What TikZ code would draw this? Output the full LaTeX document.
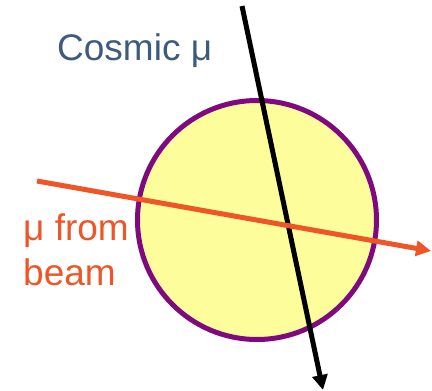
\documentclass[tikz,border=0pt]{standalone}
\usepackage{fontspec}
\setmainfont{Liberation Sans}
\usetikzlibrary{arrows.meta}
\definecolor{detfill}{HTML}{FDFD9B}
\definecolor{detline}{HTML}{7F0A7F}
\definecolor{beamcol}{HTML}{EE5527}
\definecolor{cosmiccol}{HTML}{3F5B7C}
\tikzset{
  detector/.style={circle, draw=detline, line width=5pt, fill=detfill, minimum size=239pt, inner sep=0pt},
  track/.style={line width=5pt, -{Triangle[length=15pt,width=15pt]}},
  cosmictrack/.style={track, draw=black},
  beamtrack/.style={track, draw=beamcol},
  lbl/.style={font=\fontsize{37}{45}\selectfont, inner sep=0pt, anchor=base west},
}
\begin{document}
\begin{tikzpicture}[x=1pt,y=-1pt]
\useasboundingbox (0,0) rectangle (432,391);
\node[detector] (det) at (257,220) {};
\coordinate (cs) at (242,6);
\coordinate (ce) at (323,390);
\coordinate (bs) at (37,181);
\coordinate (be) at (431,251);
\draw[cosmictrack] (cs) -- (ce);
\draw[beamtrack] (bs) -- (be);
\node[lbl, text=cosmiccol] (cosmic) at (57,60) {Cosmic μ};
\node[lbl, text=beamcol] (beam1) at (23,240) {μ from};
\node[lbl, text=beamcol] (beam2) at (23,285) {beam};
\end{tikzpicture}
\end{document}
